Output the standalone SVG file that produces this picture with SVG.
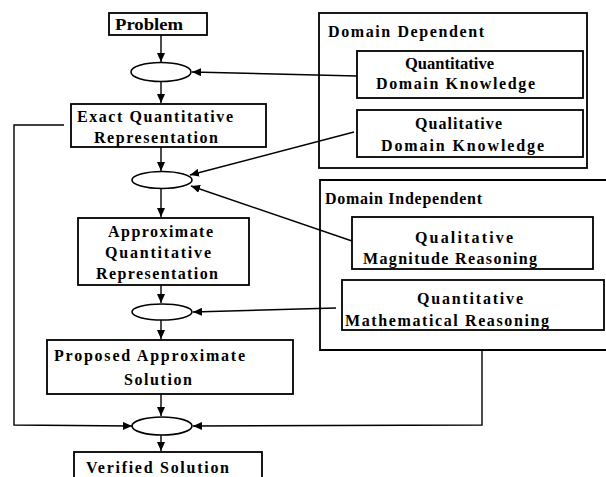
<svg xmlns="http://www.w3.org/2000/svg" width="606" height="477" viewBox="0 0 606 477">
<style>
.box{fill:none;stroke:#000;stroke-width:1.8}
.ell{fill:#fff;stroke:#000;stroke-width:1.6}
.ln{fill:none;stroke:#000;stroke-width:1.4}
text{font-family:"Liberation Serif","Times New Roman",serif;font-size:16px;fill:#000;font-weight:600}
</style>
<defs>
<marker id="ah" markerUnits="userSpaceOnUse" markerWidth="10" markerHeight="8" refX="9" refY="4" orient="auto">
<path d="M0,0 L9,4 L0,8 Z" fill="#000"/>
</marker>
</defs>
<rect width="606" height="477" fill="#fff"/>
<g id="connectors">
<line class="ln" x1="161" y1="35" x2="161" y2="62" marker-end="url(#ah)"/>
<line class="ln" x1="161" y1="82" x2="161" y2="103" marker-end="url(#ah)"/>
<line class="ln" x1="161" y1="147" x2="161" y2="171" marker-end="url(#ah)"/>
<line class="ln" x1="161" y1="189" x2="161" y2="217" marker-end="url(#ah)"/>
<line class="ln" x1="161" y1="285" x2="161" y2="303" marker-end="url(#ah)"/>
<line class="ln" x1="161" y1="320" x2="161" y2="339" marker-end="url(#ah)"/>
<line class="ln" x1="161" y1="394" x2="161" y2="416" marker-end="url(#ah)"/>
<line class="ln" x1="161" y1="435" x2="161" y2="451" marker-end="url(#ah)"/>
<line class="ln" x1="357" y1="76" x2="192" y2="72" marker-end="url(#ah)"/>
<line class="ln" x1="354" y1="132" x2="190" y2="175" marker-end="url(#ah)"/>
<line class="ln" x1="352" y1="241" x2="191" y2="186" marker-end="url(#ah)"/>
<line class="ln" x1="336" y1="308" x2="193" y2="312" marker-end="url(#ah)"/>
<polyline class="ln" points="482,350 482,425 193,426" marker-end="url(#ah)"/>
<polyline class="ln" points="64,125 14,125 14,425 132,426" marker-end="url(#ah)"/>
</g>
<g id="domain-dependent">
<rect class="box" x="319" y="13" width="268" height="155"/>
<text x="328" y="37" textLength="156" lengthAdjust="spacing">Domain Dependent</text>
</g>
<g id="domain-independent">
<path class="box" d="M606,180 H320 V350 H606"/>
<text x="325" y="204" textLength="157" lengthAdjust="spacing">Domain Independent</text>
</g>
<g id="problem">
<rect class="box" x="109" y="13" width="98" height="22"/>
<text x="115" y="30" textLength="68" lengthAdjust="spacingAndGlyphs" style="font-weight:bold">Problem</text>
</g>
<g id="e1"><ellipse class="ell" cx="161" cy="72" rx="30" ry="9.5"/></g>
<g id="exact">
<rect class="box" x="71" y="104" width="195" height="43"/>
<text x="77" y="122" textLength="156" lengthAdjust="spacing">Exact Quantitative</text>
<text x="94" y="143" textLength="124" lengthAdjust="spacing">Representation</text>
</g>
<g id="e2"><ellipse class="ell" cx="162" cy="180" rx="30" ry="8.5"/></g>
<g id="approx">
<rect class="box" x="78" y="218" width="171" height="67"/>
<text x="108" y="237" textLength="105" lengthAdjust="spacing">Approximate</text>
<text x="105" y="258" textLength="106" lengthAdjust="spacing">Quantitative</text>
<text x="96" y="279" textLength="122" lengthAdjust="spacing">Representation</text>
</g>
<g id="e3"><ellipse class="ell" cx="162" cy="312" rx="30" ry="8"/></g>
<g id="proposed">
<rect class="box" x="47" y="340" width="246" height="54"/>
<text x="54" y="361" textLength="191" lengthAdjust="spacing">Proposed Approximate</text>
<text x="124" y="385" textLength="68" lengthAdjust="spacing">Solution</text>
</g>
<g id="e4"><ellipse class="ell" cx="162" cy="426" rx="30" ry="9"/></g>
<g id="verified">
<rect class="box" x="74" y="452" width="188" height="30"/>
<text x="86" y="473" textLength="143" lengthAdjust="spacing">Verified Solution</text>
</g>
<g id="qdk">
<rect class="box" x="357" y="51" width="226" height="47"/>
<text x="405" y="69" textLength="89" lengthAdjust="spacingAndGlyphs">Quantitative</text>
<text x="376" y="89" textLength="159" lengthAdjust="spacing">Domain Knowledge</text>
</g>
<g id="qualdk">
<rect class="box" x="357" y="110" width="226" height="47"/>
<text x="415" y="129" textLength="87" lengthAdjust="spacing">Qualitative</text>
<text x="381" y="151" textLength="163" lengthAdjust="spacing">Domain Knowledge</text>
</g>
<g id="qmr">
<rect class="box" x="352" y="217" width="241" height="52"/>
<text x="415" y="243" textLength="98" lengthAdjust="spacing">Qualitative</text>
<text x="363" y="264" textLength="174" lengthAdjust="spacing">Magnitude Reasoning</text>
</g>
<g id="qmathr">
<rect class="box" x="342" y="280" width="262" height="50"/>
<text x="417" y="304" textLength="106" lengthAdjust="spacing">Quantitative</text>
<text x="345" y="326" textLength="204" lengthAdjust="spacing">Mathematical Reasoning</text>
</g>
</svg>
